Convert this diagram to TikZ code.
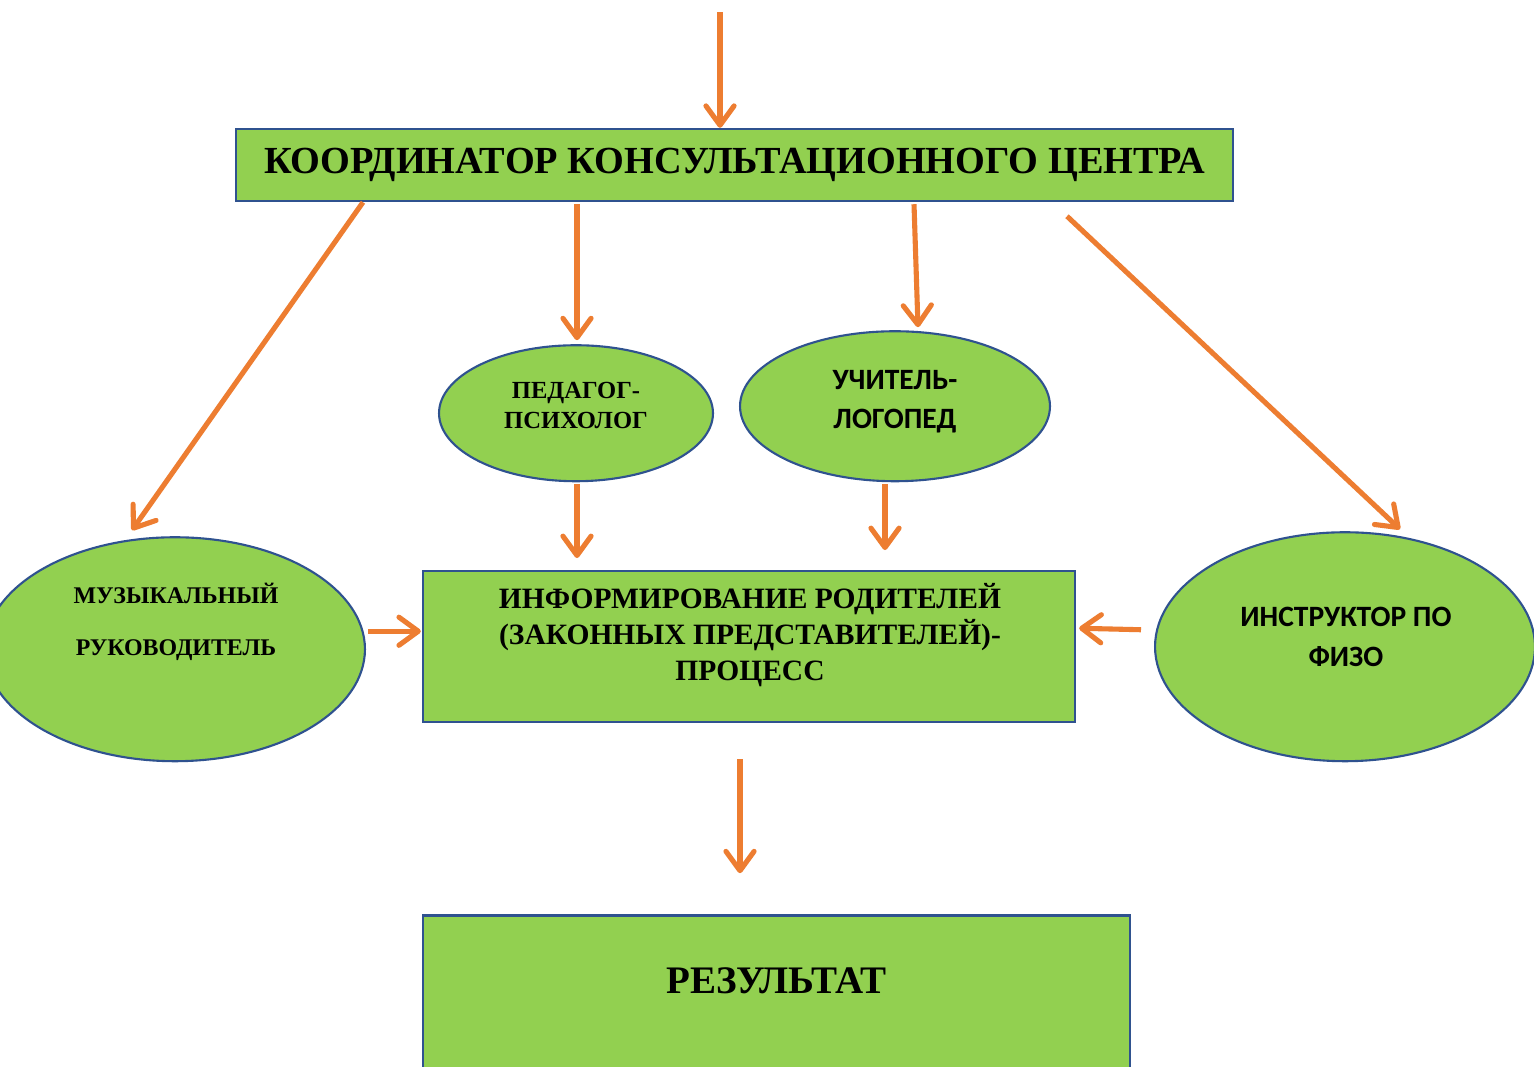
\documentclass[tikz,border=0pt]{standalone}
\usepackage{fontspec}
\setmainfont{Liberation Serif}
\newfontfamily\calib{Carlito}
\usepackage{xcolor}
\usepackage{tikz}
\usetikzlibrary{arrows.meta,shapes,calc}
\definecolor{leaf}{HTML}{92D050}
\definecolor{edge}{HTML}{2F528F}
\definecolor{orng}{HTML}{ED7D31}
\tikzstyle{block}=[draw=edge, fill=leaf, line width=1.4pt, inner sep=0pt]
\tikzstyle{oval}=[ellipse, draw=edge, fill=leaf, line width=1.2pt, inner sep=0pt]
\tikzstyle{lbl}=[align=center, font=\bfseries, inner sep=0pt]
\tikzstyle{link}=[draw=orng, line width=2.9pt,
  -{Straight Barb[round, length=11pt, width=16pt]}]

\begin{document}
\begin{tikzpicture}[x=0.02cm, y=-0.02cm]
  \path[use as bounding box, fill=white] (0,0) rectangle (1534,1066);

  \node(coord)[block, minimum width=19.94cm, minimum height=1.44cm] at (734.5,165)
  {\fontsize{21.8}{26}\selectfont\bfseries КООРДИНАТОР КОНСУЛЬТАЦИОННОГО ЦЕНТРА};
  \coordinate(top) at (720,12);

  \path(coord.south)+(-158.5,211) node(ped)[oval, minimum width=5.48cm, minimum height=2.72cm]{};
  \path(ped)+(0,-8) node(pedtxt)[lbl, font=\fontsize{14}{17}\selectfont\bfseries]
  {ПЕДАГОГ-\\ПСИХОЛОГ};

  \path(coord.south)+(160.5,204) node(log)[oval, minimum width=6.2cm, minimum height=3cm]{};
  \path(log)+(0,-4.5) node(logtxt)[lbl, font=\fontsize{16.8}{22}\selectfont\calib\bfseries]
  {УЧИТЕЛЬ-\\ЛОГОПЕД};

  \path(coord.south)+(-559.5,447) node(mus)[oval, minimum width=7.6cm, minimum height=4.48cm]{};
  \path(mus)+(1,-27) node(mustxt)[lbl, font=\fontsize{13.6}{29.5}\selectfont\bfseries]
  {МУЗЫКАЛЬНЫЙ\\РУКОВОДИТЕЛЬ};

  \path(coord.south)+(610.5,444.5) node(fiz)[oval, minimum width=7.6cm, minimum height=4.58cm]{};
  \path(fiz)+(1,-10) node(fiztxt)[lbl, font=\fontsize{16.8}{22.7}\selectfont\calib\bfseries]
  {ИНСТРУКТОР ПО\\ФИЗО};

  \path(coord.south)+(14.5,444.5) node(info)[block, minimum width=13.04cm, minimum height=3.02cm]{};
  \path(info)+(1,-11.5) node(infotxt)[lbl, font=\fontsize{16.8}{20.4}\selectfont\bfseries]
  {ИНФОРМИРОВАНИЕ РОДИТЕЛЕЙ\\(ЗАКОННЫХ ПРЕДСТАВИТЕЛЕЙ)-\\ПРОЦЕСС};

  \path(info.south)+(27.5,285.5) node(res)[block, minimum width=14.14cm, minimum height=3.74cm]{};
  \path(res.north)+(0,67) node(restxt)[lbl, font=\fontsize{22.2}{26}\selectfont\bfseries]{РЕЗУЛЬТАТ};

  % arrows
  \draw[link] (top) -- (coord.north -| top);
  \draw[link] ($(coord.south)+(-371.5,0)$) -- ($(mus.north)+(-43,-6)$);
  \draw[link] ($(coord.south -| ped.north)+(1,2)$) -- ($(ped.north)+(1,-4)$);
  \draw[link] ($(coord.south)+(179.5,2)$) -- ($(log.north)+(23,-3)$);
  \draw[link] ($(coord.south)+(332.5,14)$) -- ($(fiz.north)+(55,-2)$);
  \draw[link] ($(ped.south)+(1,2)$) -- ($(ped.south |- info.north)+(1,-12)$);
  \draw[link] ($(log.south)+(-10,2)$) -- ($(log.south |- info.north)+(-10,-20)$);
  \draw[link] ($(mus.east)+(2,-18)$) -- ($(info.west)+(-1,-15.5)$);
  \draw[link] ($(fiz.west)+(-13,-17)$) -- ($(info.east)+(3,-18.5)$);
  \draw[link] ($(info.south)+(-9,36)$) -- ($(res.north)+(-36.5,-41)$);
\end{tikzpicture}
\end{document}
